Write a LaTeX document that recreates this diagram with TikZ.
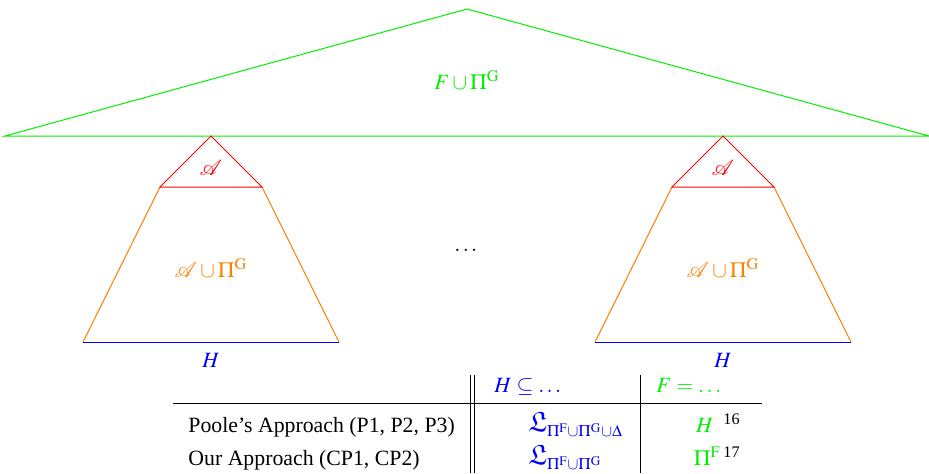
\documentclass[tikz,border=0pt]{standalone}
\usepackage{amssymb}
\usepackage{amsmath}
\usepackage{mathptmx}
\usepackage{mathrsfs}
\usepackage{bm}
\usepackage{fontspec}
\setmainfont{Liberation Serif}
\definecolor{gr}{RGB}{0,240,0}
\definecolor{rd}{RGB}{255,0,0}
\definecolor{og}{RGB}{255,128,0}
\definecolor{bl}{RGB}{0,0,255}
\newcommand{\bigfrakL}{\mathord{\text{\fontsize{14pt}{16pt}\selectfont$\bm{\mathfrak{L}}$}}}
\begin{document}
\begin{tikzpicture}[x=0.5pt,y=-0.5pt,
  lbl/.style={inner sep=0pt,font=\fontsize{10.9pt}{13pt}\selectfont},
  edge/.style={line width=0.5pt},
  rule/.style={line width=0.5pt,black}]
\useasboundingbox (0,0) rectangle (929,473);
% big green triangle
\coordinate (gT) at (467,9);
\coordinate (gL) at (5,136);
\coordinate (gR) at (929,136);
\draw[edge,gr] (gT) -- (gR) -- (gL) -- cycle;
\node[lbl,text=gr] (fpg) at (467,80) {$F\cup\Pi^{\mathrm{G}}$};
% left subtree
\coordinate (laT) at (211,136);
\coordinate (laL) at (160,187);
\coordinate (laR) at (262,187);
\coordinate (lbL) at (83,342);
\coordinate (lbR) at (339,342);
\draw[edge,og] (laL) -- (lbL) (laR) -- (lbR);
\draw[edge,bl] (lbL) -- (lbR);
\draw[edge,rd] (laT) -- (laR) -- (laL) -- cycle;
\node[lbl,text=rd] (lA) at (211,168) {$\mathscr{A}$};
\node[lbl,text=og] (lAP) at (211,268) {$\mathscr{A}\cup\Pi^{\mathrm{G}}$};
\node[lbl,text=bl] (lH) at (211,360) {$H$};
% right subtree
\coordinate (raT) at (723,136);
\coordinate (raL) at (672,187);
\coordinate (raR) at (774,187);
\coordinate (rbL) at (595,342);
\coordinate (rbR) at (851,342);
\draw[edge,og] (raL) -- (rbL) (raR) -- (rbR);
\draw[edge,bl] (rbL) -- (rbR);
\draw[edge,rd] (raT) -- (raR) -- (raL) -- cycle;
\node[lbl,text=rd] (rA) at (723,168) {$\mathscr{A}$};
\node[lbl,text=og] (rAP) at (723,268) {$\mathscr{A}\cup\Pi^{\mathrm{G}}$};
\node[lbl,text=bl] (rH) at (723,360) {$H$};
% dots
\node[lbl] (dots) at (467,250) {$\dots$};
% table
\coordinate (hl) at (173,403);
\coordinate (hr) at (762,403);
\draw[rule] (hl) -- (hr);
\coordinate (d1t) at (470,375); \coordinate (d1b) at (470,473);
\coordinate (d2t) at (474,375); \coordinate (d2b) at (474,473);
\coordinate (s1t) at (640,375); \coordinate (s1b) at (640,473);
\draw[rule] (d1t) -- (d1b) (d2t) -- (d2b) (s1t) -- (s1b);
\node[lbl,anchor=base west,text=bl] (h1) at (494,392) {$H\subseteq\dots$};
\node[lbl,anchor=base west,text=gr] (h2) at (656,392) {$F=\dots$};
\node[lbl,anchor=base west] (r1) at (188,432) {Poole’s Approach (P1, P2, P3)};
\node[lbl,anchor=base west] (r2) at (188,465) {Our Approach (CP1, CP2)};
\node[lbl,anchor=base west,text=bl] (f1) at (528,431) {$\bigfrakL_{\Pi^{\mathrm{F}}\cup\Pi^{\mathrm{G}}\cup\Delta}$};
\node[lbl,anchor=base west,text=bl] (f2) at (528,464) {$\bigfrakL_{\Pi^{\mathrm{F}}\cup\Pi^{\mathrm{G}}}$};
\node[lbl,anchor=base east] (c1) at (741,432) {{\color{gr}$H$}\hspace{5pt}\textsuperscript{16}};
\node[lbl,anchor=base east] (c2) at (741,465) {{\color{gr}$\Pi^{\mathrm{F}}$}\hspace{1.5pt}\textsuperscript{17}};
\end{tikzpicture}
\end{document}
